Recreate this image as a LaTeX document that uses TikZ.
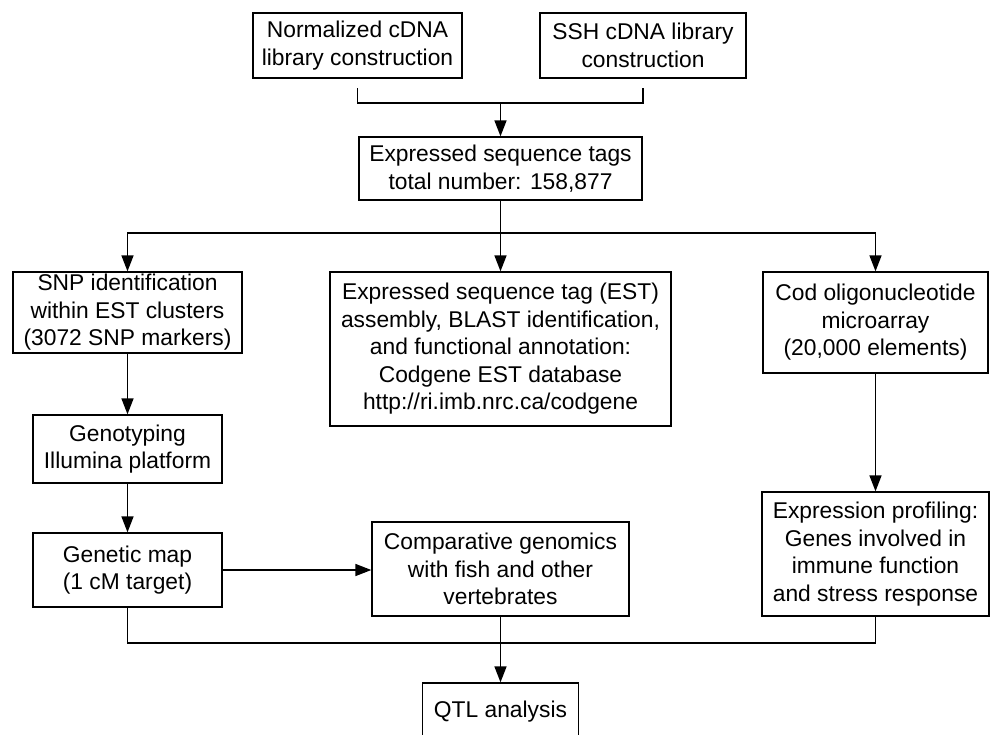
\documentclass[tikz,border=0pt]{standalone}
\usepackage{fontspec}
\setmainfont{Liberation Sans}
\usetikzlibrary{arrows.meta}
\begin{document}
\begin{tikzpicture}[x=1pt,y=-1pt,line width=1.5pt,
        box/.style={draw,line width=1.3pt,align=center,inner sep=0pt,font=\fontsize{22.8}{27.5}\selectfont},
        arr/.style={-{Triangle[length=16pt,width=12pt]}}]
        \useasboundingbox (0,0) rectangle (990,734);

        \node[box,minimum width=209,minimum height=65] (norm) at (357.5,45.5) {Normalized cDNA\\library construction};
        \node[box,minimum width=206,minimum height=65] (ssh) at (643,45.5) {SSH cDNA library\\construction};
        \node[box,minimum width=283,minimum height=63] (est) at (500.5,168.5) {Expressed sequence tags\\total number: 158,877};
        \node[box,minimum width=229,minimum height=81] (snp) at (127.5,312.5) {SNP identification\\within EST clusters\\(3072 SNP markers)};
        \node[box,minimum width=341,minimum height=154] (asm) at (500.5,349) {Expressed sequence tag (EST)\\assembly, BLAST identification,\\and functional annotation:\\Codgene EST database\\http://ri.imb.nrc.ca/codgene};
        \node[box,minimum width=225,minimum height=101] (cod) at (875.5,322.5) {Cod oligonucleotide\\microarray\\(20,000 elements)};
        \node[box,minimum width=189,minimum height=68] (geno) at (127.5,449) {Genotyping\\Illumina platform};
        \node[box,minimum width=189,minimum height=74] (gmap) at (127.5,570) {Genetic map\\(1 cM target)};
        \node[box,minimum width=257,minimum height=94] (comp) at (500.5,569) {Comparative genomics\\with fish and other\\vertebrates};
        \node[box,minimum width=227,minimum height=124] (expr) at (875.5,554) {Expression profiling:\\Genes involved in\\immune function\\and stress response};
        \node[box,minimum width=156,minimum height=58] (qtl) at (500.5,712) {QTL analysis};

        \coordinate (b1) at (357.5,88);
        \coordinate (b2) at (643,88);
        \coordinate (j1) at (500.5,103);
        \coordinate (j2) at (500.5,233);
        \coordinate (j3) at (500.5,643);

        \draw (b1) |- (j1) -| (b2);
        \draw[arr] (j1) -- (est.north);
        \draw (est.south) -- (j2);
        \draw[arr] (j2) -| (snp.north);
        \draw[arr] (j2) -| (cod.north);
        \draw[arr] (j2) -- (asm.north);
        \draw[arr] (snp) -- (geno);
        \draw[arr] (geno) -- (gmap);
        \draw[arr] (gmap.east) -- (comp.west |- gmap.east);
        \draw[arr] (cod) -- (expr);
        \draw (gmap.south) |- (j3) -| (expr.south);
        \draw[arr] (comp.south) -- (qtl.north);
    \end{tikzpicture}
\end{document}
